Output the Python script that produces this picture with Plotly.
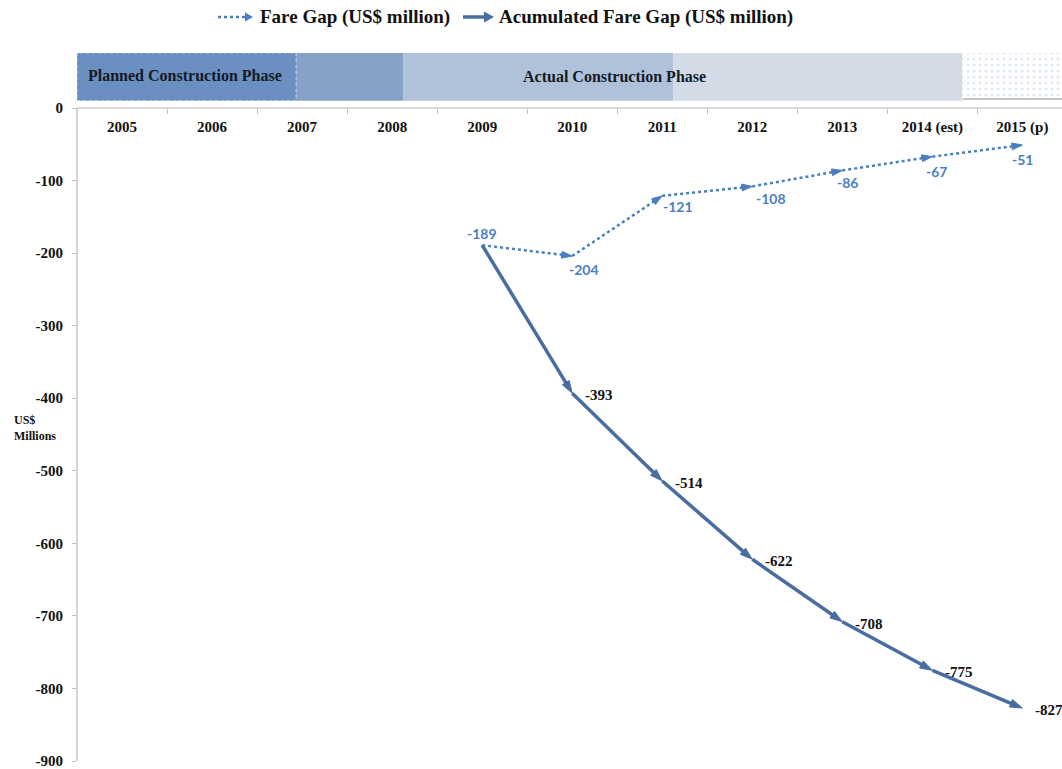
import plotly.graph_objects as go

# ---------------- data ----------------
years = ["2005", "2006", "2007", "2008", "2009", "2010", "2011",
         "2012", "2013", "2014 (est)", "2015 (p)"]
data_years = ["2009", "2010", "2011", "2012", "2013", "2014 (est)", "2015 (p)"]
fare_gap = [-189, -204, -121, -108, -86, -67, -51]
acc_fare_gap = [-189, -393, -514, -622, -708, -775, -827]
y_ticks = [0, -100, -200, -300, -400, -500, -600, -700, -800, -900]
y_tick_labels = ["0", "-100", "-200", "-300", "-400", "-500", "-600", "-700", "-800", "-900"]

series_names = ["Fare Gap (US$ million)", "Acumulated Fare Gap (US$ million)"]
phase_labels = ["Planned Construction Phase", "Actual Construction Phase"]

# ---------------- styling / layout ----------------
W, H = 1062, 769
ML, MR, MT, MB = 77, 0, 50, 8
Y_MIN, Y_MAX = -900, 80
X_RANGE = [-0.5, 10.44]
SERIF = "Liberation Serif"
FARE_C = "#4a7ebf"
ACC_C = "#4a6d9f"

plot_w = W - ML - MR
plot_h = H - MT - MB


def px_to_paper(px, py):
    return (px - ML) / plot_w, (H - MB - py) / plot_h


def cat(yr):
    return years.index(yr)


fig = go.Figure()

# phase band shapes (x in category units, y in data units)
bands = [
    (-0.5, 1.933, 10, 76, "#6b8fc0"),
    (1.933, 3.122, 10, 76, "#87a2c8"),
    (3.122, 6.122, 10, 76, "#b0c2d9"),
    (6.122, 9.333, 10, 76, "#d3dbe6"),
]
for x0, x1, y0, y1, c in bands:
    fig.add_shape(type="rect", xref="x", yref="y", x0=x0, x1=x1, y0=y0, y1=y1,
                  fillcolor=c, line=dict(width=0), layer="below")
fig.add_shape(type="rect", xref="x", yref="y", x0=-0.5, x1=1.933, y0=10, y1=76,
              fillcolor="rgba(0,0,0,0)", line=dict(color="rgba(255,255,255,0.6)", width=1, dash="dot"))

# dotted projected band
fig.add_trace(go.Bar(
    x=["2015 (p)"], y=[62], base=[14], offset=-0.667, width=1.6,
    marker=dict(color="white", line=dict(width=0),
                pattern=dict(shape=".", fgcolor="#c2d1e8", bgcolor="white", size=6, solidity=0.2)),
    showlegend=False, hoverinfo="skip"))
fig.add_shape(type="line", xref="x", yref="y", x0=9.34, x1=10.6, y0=12.5, y1=12.5,
              line=dict(color="#c4c4c4", width=2))

# y axis line
fig.add_shape(type="line", xref="paper", yref="y", x0=0, x1=0, y0=0, y1=-900,
              line=dict(color="#c8c8c8", width=1.5))

# series
sizes_f = [0] + [11] * (len(fare_gap) - 1)
sizes_a = [0] + [13] * (len(acc_fare_gap) - 1)
fig.add_trace(go.Scatter(
    x=data_years, y=fare_gap, mode="lines+markers", name=series_names[0],
    line=dict(color=FARE_C, width=2.5, dash="dot"),
    marker=dict(symbol="arrow", angleref="previous", size=sizes_f, color=FARE_C,
                opacity=1, line=dict(width=1, color=FARE_C)),
    showlegend=False))
fig.add_trace(go.Scatter(
    x=data_years, y=acc_fare_gap, mode="lines+markers", name=series_names[1],
    line=dict(color=ACC_C, width=3.5),
    marker=dict(symbol="arrow", angleref="previous", size=sizes_a, color=ACC_C,
                opacity=1, line=dict(width=1, color=ACC_C)),
    showlegend=False))

# data labels
fare_offsets = [(0, 12), (12, -13), (16, -11), (19, -12), (5, -12), (4, -15), (0, -14)]
for yr, v, (dx, dy) in zip(data_years, fare_gap, fare_offsets):
    fig.add_annotation(x=cat(yr), y=v, xref="x", yref="y", text=str(v), showarrow=False,
                       xshift=dx, yshift=dy,
                       font=dict(family="Lato", size=14, color=FARE_C, weight="bold"))
for yr, v in zip(data_years[1:], acc_fare_gap[1:]):
    fig.add_annotation(x=cat(yr), y=v, xref="x", yref="y", text=str(v), showarrow=False,
                       xshift=27, yshift=-2,
                       font=dict(family=SERIF, size=15, color="#111111", weight="bold"))

# phase labels
fig.add_annotation(x=0.7, y=45, xref="x", yref="y", text=phase_labels[0], showarrow=False,
                   font=dict(family=SERIF, size=16, color="#141a26", weight="bold"))
fig.add_annotation(x=5.47, y=43, xref="x", yref="y", text=phase_labels[1], showarrow=False,
                   font=dict(family=SERIF, size=16, color="#141a26", weight="bold"))

# y axis title
tx, ty = px_to_paper(12, 428)
fig.add_annotation(x=tx, y=ty, xref="paper", yref="paper", xanchor="left", yanchor="middle",
                   text="US$<br>Millions", align="left", showarrow=False,
                   font=dict(family=SERIF, size=12, color="#111111", weight="bold"))

# custom legend
LY = 17


def tri(tip_x, base_x, half_h, color):
    p1 = px_to_paper(tip_x, LY)
    p2 = px_to_paper(base_x, LY - half_h)
    p3 = px_to_paper(base_x, LY + half_h)
    path = f"M {p1[0]},{p1[1]} L {p2[0]},{p2[1]} L {p3[0]},{p3[1]} Z"
    fig.add_shape(type="path", xref="paper", yref="paper", path=path,
                  fillcolor=color, line=dict(width=0))


a = px_to_paper(218, LY); b = px_to_paper(246, LY)
fig.add_shape(type="line", xref="paper", yref="paper", x0=a[0], x1=b[0], y0=a[1], y1=b[1],
              line=dict(color=FARE_C, width=2.5, dash="dot"))
tri(253, 245, 4.5, FARE_C)
tp = px_to_paper(258, LY)
fig.add_annotation(x=tp[0], y=tp[1], xref="paper", yref="paper", xanchor="left", yanchor="middle",
                   text=series_names[0], showarrow=False,
                   font=dict(family=SERIF, size=19, color="#111111", weight="bold"))
a = px_to_paper(463, LY); b = px_to_paper(486, LY)
fig.add_shape(type="line", xref="paper", yref="paper", x0=a[0], x1=b[0], y0=a[1], y1=b[1],
              line=dict(color=ACC_C, width=3.5))
tri(494, 484, 5.5, ACC_C)
tp = px_to_paper(497, LY)
fig.add_annotation(x=tp[0], y=tp[1], xref="paper", yref="paper", xanchor="left", yanchor="middle",
                   text=series_names[1], showarrow=False,
                   font=dict(family=SERIF, size=19, color="#111111", weight="bold"))

fig.update_layout(
    width=W, height=H, margin=dict(l=ML, r=MR, t=MT, b=MB),
    plot_bgcolor="white", paper_bgcolor="white", showlegend=False,
    xaxis=dict(type="category", categoryorder="array", categoryarray=years,
               range=X_RANGE, anchor="free", position=(0 - Y_MIN) / (Y_MAX - Y_MIN),
               showline=True, linecolor="#d9d9d9", linewidth=2,
               ticks="outside", tickson="boundaries", ticklen=5, tickcolor="#c0c0c0",
               ticklabelstandoff=5,
               tickfont=dict(family=SERIF, size=15, color="#111111", weight="bold"),
               showgrid=False, zeroline=False),
    yaxis=dict(range=[Y_MIN, Y_MAX], tickmode="array", tickvals=y_ticks, ticktext=y_tick_labels,
               ticks="outside", ticklen=4, tickcolor="#c0c0c0", ticklabelstandoff=6,
               ticklabeloverflow="allow",
               tickfont=dict(family=SERIF, size=15, color="#111111", weight="bold"),
               showline=False, showgrid=False, zeroline=False),
)

fig.write_html("out.html")
